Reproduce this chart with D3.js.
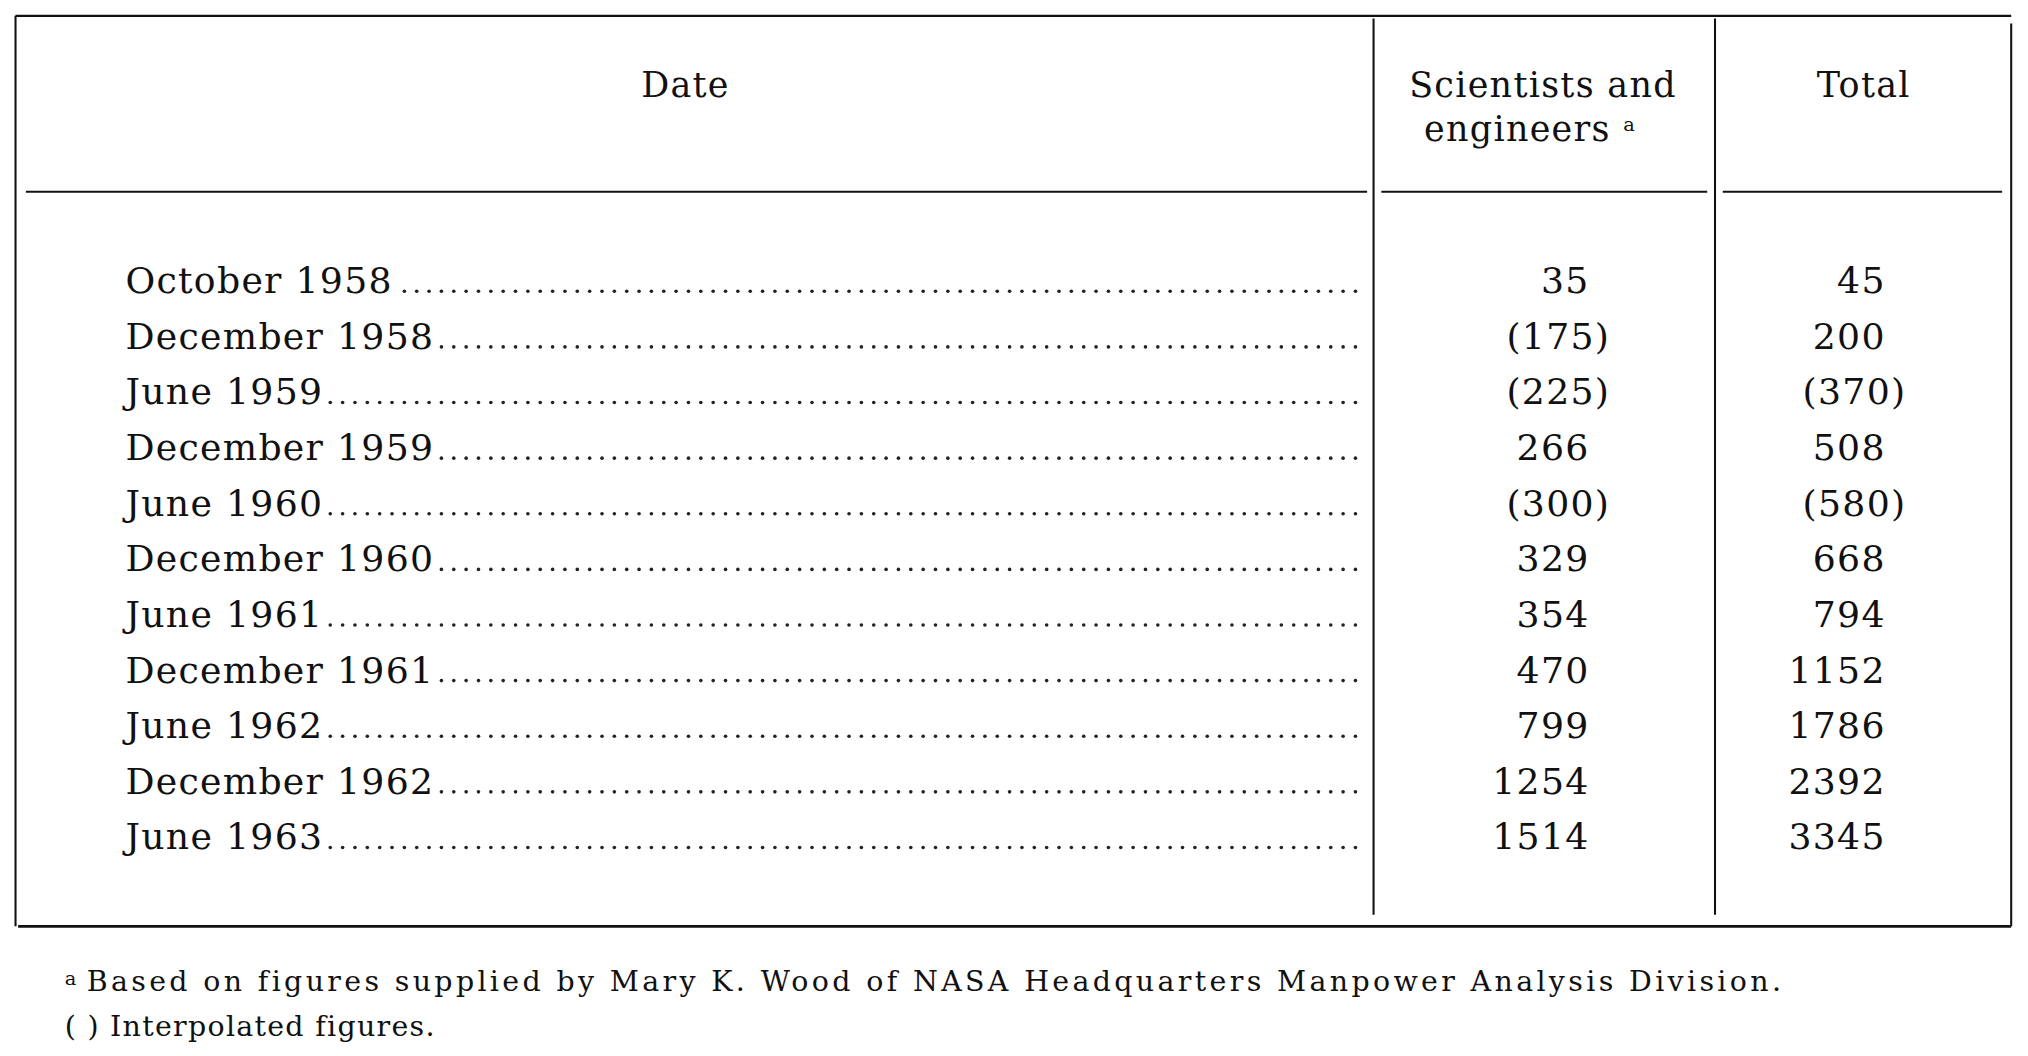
<!DOCTYPE html>
<html>
<head>
<meta charset="utf-8">
<script src="https://cdn.jsdelivr.net/npm/d3@7"></script>
<style>
  body { margin: 0; background: #fff; }
  text { font-family: "DejaVu Serif", "Liberation Serif", serif; fill: #111; letter-spacing: 1px; }
</style>
</head>
<body>
<script>
// Table data
const dates = ["October 1958", "December 1958", "June 1959", "December 1959", "June 1960",
  "December 1960", "June 1961", "December 1961", "June 1962", "December 1962", "June 1963"];
const scientists = [35, 175, 225, 266, 300, 329, 354, 470, 799, 1254, 1514];
const totals = [45, 200, 370, 508, 580, 668, 794, 1152, 1786, 2392, 3345];
// interpolated flags (shown in parentheses)
const sciInterp = [false, true, true, false, true, false, false, false, false, false, false];
const totInterp = [false, false, true, false, true, false, false, false, false, false, false];

const W = 1568, H = 816;
const svg = d3.select("body").append("svg")
    .attr("width", 2028)
    .attr("height", 1056)
    .attr("viewBox", [0, 0, W, H]);

const line = (x1, y1, x2, y2, w) => svg.append("line")
    .attr("x1", x1).attr("y1", y1).attr("x2", x2).attr("y2", y2)
    .attr("stroke", "#111").attr("stroke-width", w || 1.6);

// Frame
line(12, 12, 1555, 12, 1.8);
line(12, 12, 12, 716);
line(1555, 18, 1555, 716);
line(14, 716, 1555, 716, 2);
line(1062, 14, 1062, 707);
line(1326, 14, 1326, 707);
line(20, 148, 1057, 148);
line(1068, 148, 1320, 148);
line(1332, 148, 1548, 148);

// Headers
const hdr = (x, y, t) => svg.append("text").attr("x", x).attr("y", y)
    .attr("text-anchor", "middle").attr("font-size", 27).text(t);
hdr(530, 75, "Date");
hdr(1193, 75, "Scientists and");
const eng = hdr(1183, 109, "engineers ");
eng.append("tspan").attr("font-size", 15).attr("dy", -8).text("a");
hdr(1441, 75, "Total");

// Rows
const y = d3.scaleBand().domain(dates).range([195, 668]);

const rows = svg.append("g").selectAll("g").data(dates).join("g")
    .attr("transform", d => `translate(0,${y(d) + y.bandwidth() / 2 + 10})`);

rows.append("text").attr("x", 97).attr("font-size", 28).text(d => d)
  .each(function() {
    const end = 97 + this.getComputedTextLength() + 3;
    const g = d3.select(this.parentNode);
    const dots = d3.range(1048, end, -9.55);
    g.selectAll("circle").data(dots).join("circle")
      .attr("cx", d => d).attr("cy", -1.5).attr("r", 1.4).attr("fill", "#222");
  });

const fmt = (v, p) => p ? `(${v})` : `${v}`;
rows.append("text").attr("text-anchor", "end").attr("font-size", 28)
    .attr("x", (d, i) => sciInterp[i] ? 1245 : 1229)
    .text((d, i) => fmt(scientists[i], sciInterp[i]));
rows.append("text").attr("text-anchor", "end").attr("font-size", 28)
    .attr("x", (d, i) => totInterp[i] ? 1474 : 1458)
    .text((d, i) => fmt(totals[i], totInterp[i]));

// Footnotes
svg.append("text").attr("x", 50).attr("y", 761).attr("font-size", 15).text("a");
svg.append("text").attr("x", 67).attr("y", 766).attr("font-size", 22)
    .attr("textLength", 1311).attr("lengthAdjust", "spacing")
    .text("Based on figures supplied by Mary K. Wood of NASA Headquarters Manpower Analysis Division.");
svg.append("text").attr("x", 50).attr("y", 801).attr("font-size", 22)
    .text("( )  Interpolated figures.");
</script>
</body>
</html>
